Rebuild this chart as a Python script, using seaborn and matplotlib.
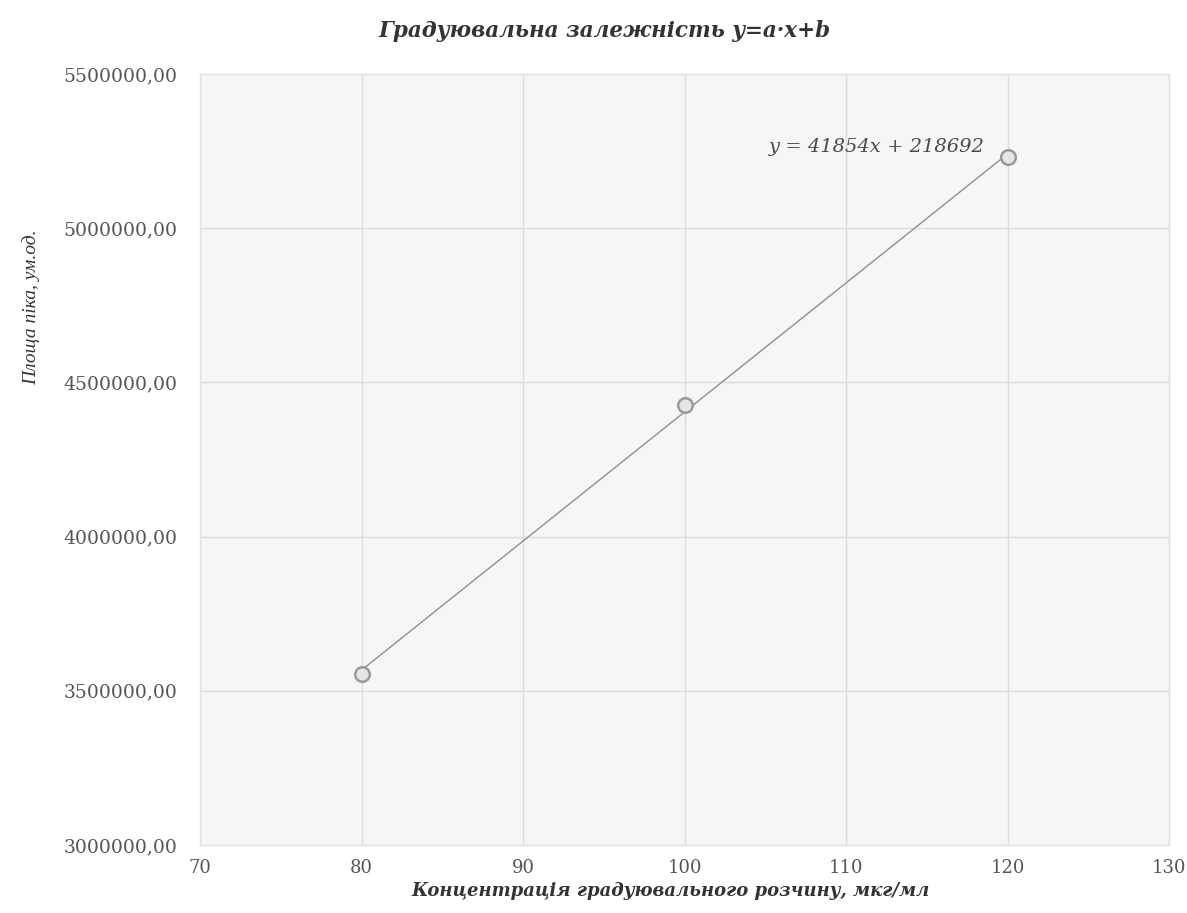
import numpy as np
import pandas as pd
import matplotlib
matplotlib.use("Agg")
import matplotlib.pyplot as plt
import seaborn as sns
from matplotlib.ticker import FuncFormatter

# Calibration data: concentration of the standard solution vs. peak area
concentration = [80, 100, 120]
peak_area = [3555000, 4428116, 5229160]

# Linear calibration coefficients y = a*x + b
slope_a = 41854
intercept_b = 218692

x_ticks = [70, 80, 90, 100, 110, 120, 130]
y_ticks = [3000000, 3500000, 4000000, 4500000, 5000000, 5500000]

title_text = "Градуювальна залежність y=a·x+b"
x_label = "Концентрація градуювального розчину, мкг/мл"
y_label = "Площа піка, ум.од."

sns.set_theme(style="whitegrid")
plt.rcParams["font.family"] = ["DejaVu Serif", "Liberation Serif"]

df = pd.DataFrame({"conc": concentration, "area": peak_area})
x_line = np.array([min(concentration), max(concentration)], dtype=float)
fit = pd.DataFrame({"conc": x_line, "area": slope_a * x_line + intercept_b})

fig = plt.figure(figsize=(11.87, 9.13), dpi=100)
ax = fig.add_axes([0.1685, 0.0745, 0.8165, 0.8445])
ax.set_facecolor("#f6f6f9")

sns.lineplot(data=fit, x="conc", y="area", ax=ax, color="#8f8f8f", linewidth=1.0)
sns.scatterplot(data=df, x="conc", y="area", ax=ax, s=110, marker="o",
                facecolor="#e6e6e6", edgecolor="#9a9a9a", linewidth=1.8, zorder=5)

ax.set_xlim(70, 130)
ax.set_ylim(3000000, 5500000)
ax.set_xticks(x_ticks)
ax.set_yticks(y_ticks)
ax.yaxis.set_major_formatter(FuncFormatter(lambda v, p: f"{v:.2f}".replace(".", ",")))
ax.grid(True, color="#dcdcdc", linewidth=1.0)
for s in ax.spines.values():
    s.set_color("#e2e2e2")
    s.set_linewidth(1.0)

ax.tick_params(axis="both", length=0, colors="#555555")
ax.tick_params(axis="x", pad=10, labelsize=13)
ax.tick_params(axis="y", pad=16, labelsize=13.5)

ax.set_xlabel(x_label, fontsize=13, fontstyle="italic", fontweight="bold",
              color="#333333")
ax.xaxis.set_label_coords(0.485, -0.048)
ax.set_ylabel(y_label, fontsize=14, fontstyle="italic", color="#333333",
              family="Liberation Serif")
ax.yaxis.set_label_coords(-0.165, 0.698)
fig.text(0.509, 0.966, title_text, ha="center", va="center", fontsize=15.5,
         fontstyle="italic", fontweight="bold", color="#333333")

eq = f"y = {slope_a}x + {intercept_b}"
ax.text(118.6, 5235000, eq, ha="right", va="bottom", fontsize=14,
        fontstyle="italic", color="#4a4a4a")

fig.savefig("out.png", dpi=100, facecolor="white")
